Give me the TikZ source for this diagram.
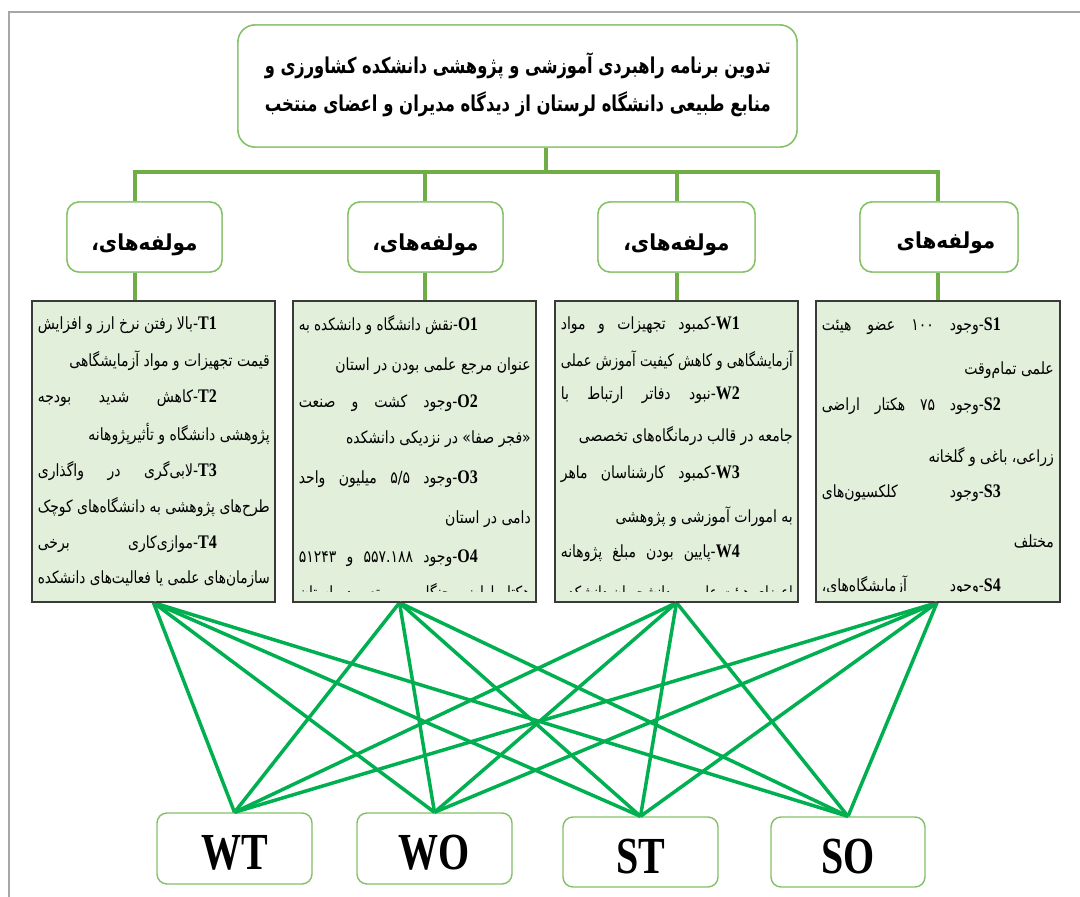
\documentclass[tikz,border=0pt]{standalone}
\usepackage{fontspec}
\usepackage{graphicx}
\TeXXeTstate=1
\newfontfamily\fa[Script=Arabic]{DejaVu Sans}
\newfontfamily\lat{Liberation Serif}
\definecolor{framegray}{HTML}{A6A6A6}
\definecolor{boxgreen}{HTML}{84C066}
\definecolor{treegreen}{HTML}{70AD47}
\definecolor{crossgreen}{HTML}{00B050}
\definecolor{tfill}{HTML}{E2EFDA}
\definecolor{darkline}{HTML}{3A3A3A}
\newsavebox\lnbox
\newcommand\FitJ[2]{\sbox\lnbox{#2}\ifdim\wd\lnbox>#1\relax\resizebox{#1}{\height}{\usebox\lnbox}\else\hbox to #1{#2}\fi}
\newcommand\FitN[2]{\sbox\lnbox{#2}\ifdim\wd\lnbox>#1\relax\resizebox{#1}{\height}{\usebox\lnbox}\else\usebox\lnbox\fi}
\newcommand\lab[1]{{\lat\bfseries\fontsize{16}{16}\selectfont\beginL#1\endL}}
\newcommand\fasz{\fa\fontsize{14}{16}\selectfont}
\newcommand\FLn[3]{\node[pl] (#1) at (\BR-58,#2) {\scalebox{1}[1.2]{\FitJ{179pt}{#3}}};}
\newcommand\LLn[3]{\node[pl] (#1) at (\BR-5,#2) {\scalebox{1}[1.2]{\FitN{232pt}{#3}}};}
\newcommand\PLn[3]{\node[pl, anchor=base east] (#1) at (\BR-5,#2) {\scalebox{1}[1.2]{\FitJ{232pt}{#3}}};}
\tikzset{
  frame/.style={draw=framegray, line width=2pt},
  rbox/.style={draw=boxgreen, line width=1.4pt, fill=white, inner sep=0pt},
  tbox/.style={draw=darkline, line width=1.4pt, fill=tfill, inner sep=0pt, minimum height=301pt, minimum width=243pt},
  tboxline/.style={draw=darkline, line width=1.4pt},
  tree/.style={draw=treegreen, line width=4pt},
  cross/.style={draw=crossgreen, line width=3.5pt},
  pl/.style={inner sep=0pt, anchor=east, font=\fasz},
  comptext/.style={inner sep=0pt, font=\fa\bfseries\fontsize{20}{24}\selectfont},
  bigtext/.style={inner sep=0pt, font=\lat\bfseries\fontsize{40}{40}\selectfont},
}
\begin{document}
\begin{tikzpicture}[x=1pt,y=-1pt]
\useasboundingbox (0,0) rectangle (1080,897);
% outer frame
\draw[frame] (9,897) -- (9,12) -- (1080,12);
% boxes
\node[rbox, rounded corners=17pt, minimum width=559pt, minimum height=122pt] (title) at (517.5,86) {};
\node[rbox, rounded corners=12pt, minimum width=155pt, minimum height=70pt] (c1) at (144.5,237) {};
\node[rbox, rounded corners=12pt, minimum width=155pt, minimum height=70pt] (c2) at (425.5,237) {};
\node[rbox, rounded corners=12pt, minimum width=157pt, minimum height=70pt] (c3) at (676.5,237) {};
\node[rbox, rounded corners=12pt, minimum width=158pt, minimum height=70pt] (c4) at (939,237) {};
% tree connectors
\coordinate (tk) at (546,172);
\coordinate (b1) at (135,172);
\coordinate (b2) at (425,172);
\coordinate (b3) at (677,172);
\coordinate (b4) at (938,172);
\node[tbox] (tT) at (153.5,451.5) {};
\node[tbox] (tO) at (414.5,451.5) {};
\node[tbox] (tW) at (676.5,451.5) {};
\node[tbox] (tS) at (938,451.5) {};
\draw[tree] (tk |- title.south) -- (tk);
\draw[tree, line join=miter] (b1 |- c1.north) -- (b1) -- (b4) -- (b4 |- c4.north);
\draw[tree] (b2) -- (b2 |- c2.north);
\draw[tree] (b3) -- (b3 |- c3.north);
\draw[tree] (b1 |- c1.south) -- (b1 |- tT.north);
\draw[tree] (b2 |- c2.south) -- (b2 |- tO.north);
\draw[tree] (b3 |- c3.south) -- (b3 |- tW.north);
\draw[tree] (b4 |- c4.south) -- (b4 |- tS.north);
% redraw boxes over connector ends
\node[rbox, rounded corners=17pt, minimum width=559pt, minimum height=122pt] (title2) at (title.center) {};
\node[rbox, rounded corners=12pt, minimum width=155pt, minimum height=70pt] (c1b) at (c1.center) {};
\node[rbox, rounded corners=12pt, minimum width=155pt, minimum height=70pt] (c2b) at (c2.center) {};
\node[rbox, rounded corners=12pt, minimum width=157pt, minimum height=70pt] (c3b) at (c3.center) {};
\node[rbox, rounded corners=12pt, minimum width=158pt, minimum height=70pt] (c4b) at (c4.center) {};
% bottom boxes
\node[rbox, rounded corners=10pt, minimum width=155pt, minimum height=71pt] (wt) at (234.5,848.5) {};
\node[rbox, rounded corners=10pt, minimum width=155pt, minimum height=71pt] (wo) at (434.5,848.5) {};
\node[rbox, rounded corners=10pt, minimum width=155pt, minimum height=70pt] (st) at (640.5,852) {};
\node[rbox, rounded corners=10pt, minimum width=154pt, minimum height=70pt] (so) at (848,852) {};
% cross connectors
\coordinate (uT) at (tT.south);
\coordinate (uO) at ([xshift=-15pt]tO.south);
\coordinate (uW) at (tW.south);
\coordinate (uS) at ([xshift=-1pt]tS.south);
\foreach \u in {uT,uO,uW,uS}{
  \foreach \d in {wt,wo,st,so}{
    \draw[cross] (\u) -- (\d.north);
  }
}
% redraw text box frames over line ends
\draw[tboxline] (tT.south west) rectangle (tT.north east);
\draw[tboxline] (tO.south west) rectangle (tO.north east);
\draw[tboxline] (tW.south west) rectangle (tW.north east);
\draw[tboxline] (tS.south west) rectangle (tS.north east);
% title text
\node[inner sep=0pt, anchor=east] (ttl1) at (771,66) {\fa\bfseries\fontsize{19}{22}\selectfont\scalebox{1}[1.15]{\FitJ{506pt}{\beginR تدوین برنامه راهبردی آموزشی و پژوهشی دانشکده کشاورزی و\endR}}};
\node[inner sep=0pt, anchor=east] (ttl2) at (771,104) {\fa\bfseries\fontsize{19}{22}\selectfont\scalebox{1}[1.15]{\FitJ{506pt}{\beginR منابع طبیعی دانشگاه لرستان از دیدگاه مدیران و اعضای منتخب\endR}}};
% component texts
\node[comptext] (c1t) at (144.5,245) {\scalebox{1}[1.1]{\beginR مولفه‌های،\endR}};
\node[comptext] (c2t) at (425.5,245) {\scalebox{1}[1.1]{\beginR مولفه‌های،\endR}};
\node[comptext] (c3t) at (676.5,245) {\scalebox{1}[1.1]{\beginR مولفه‌های،\endR}};
\node[comptext] (c4t) at (946,243) {\scalebox{1}[1.1]{\beginR مولفه‌های\endR}};
% T box
\begin{scope}
\clip ([yshift=11pt]tT.south west) rectangle (tT.north east);
\def\BR{275}
\FLn{t1}{325}{\beginR\lab{T1}-بالا رفتن نرخ ارز و افزایش\endR}
\LLn{t2}{361}{\beginR قیمت تجهیزات و مواد آزمایشگاهی\endR}
\FLn{t3}{398}{\beginR\lab{T2}-کاهش شدید بودجه\endR}
\LLn{t4}{434}{\beginR پژوهشی دانشگاه و تأثیرپژوهانه\endR}
\FLn{t5}{471}{\beginR\lab{T3}-لابی‌گری در واگذاری\endR}
\LLn{t6}{507}{\beginR طرح‌های پژوهشی به دانشگاه‌های کوچک\endR}
\FLn{t7}{544}{\beginR\lab{T4}-موازی‌کاری برخی\endR}
\LLn{t8}{579}{\beginR سازمان‌های علمی یا فعالیت‌های دانشکده\endR}
\end{scope}
% O box
\begin{scope}
\clip ([yshift=11pt]tO.south west) rectangle (tO.north east);
\def\BR{536}
\FLn{o1}{325}{\beginR\lab{O1}-نقش دانشگاه و دانشکده به\endR}
\LLn{o2}{366}{\beginR عنوان مرجع علمی بودن در استان\endR}
\FLn{o3}{403}{\beginR\lab{O2}-وجود کشت و صنعت\endR}
\LLn{o4}{439}{\beginR «فجر صفا» در نزدیکی دانشکده\endR}
\FLn{o5}{479}{\beginR\lab{O3}-وجود ۵/۵ میلیون واحد\endR}
\LLn{o6}{519}{\beginR دامی در استان\endR}
\FLn{o7}{558}{\beginR\lab{O4}-وجود ۵۵۷.۱۸۸ و ۵۱۲۴۳\endR}
\PLn{o8}{598}{\beginR هکتار اراضی جنگلی و مرتعی در استان\endR}
\end{scope}
% W box
\begin{scope}
\clip ([yshift=11pt]tW.south west) rectangle (tW.north east);
\def\BR{798}
\FLn{w1}{325}{\beginR\lab{W1}-کمبود تجهیزات و مواد\endR}
\LLn{w2}{361}{\beginR آزمایشگاهی و کاهش کیفیت آموزش عملی\endR}
\FLn{w3}{395}{\beginR\lab{W2}-نبود دفاتر ارتباط با\endR}
\LLn{w4}{436}{\beginR جامعه در قالب درمانگاه‌های تخصصی\endR}
\FLn{w5}{474}{\beginR\lab{W3}-کمبود کارشناسان ماهر\endR}
\LLn{w6}{517}{\beginR به امورات آموزشی و پژوهشی\endR}
\FLn{w7}{553}{\beginR\lab{W4}-پایین بودن مبلغ پژوهانه\endR}
\PLn{w8}{598}{\beginR اعضای هیئت علمی و دانشجویان دانشکده\endR}
\end{scope}
% S box
\begin{scope}
\clip ([yshift=11pt]tS.south west) rectangle (tS.north east);
\def\BR{1059}
\FLn{s1}{326}{\beginR\lab{S1}-وجود ۱۰۰ عضو هیئت\endR}
\LLn{s2}{370}{\beginR علمی تمام‌وقت\endR}
\FLn{s3}{406}{\beginR\lab{S2}-وجود ۷۵ هکتار اراضی\endR}
\LLn{s4}{457}{\beginR زراعی، باغی و گلخانه\endR}
\FLn{s5}{493}{\beginR\lab{S3}-وجود کلکسیون‌های\endR}
\LLn{s6}{541}{\beginR مختلف\endR}
\FLn{s7}{586}{\beginR\lab{S4}-وجود آزمایشگاه‌های،\endR}
\end{scope}
% bottom labels
\node[bigtext] (wtt) at (234.5,853) {\scalebox{1}[1.3]{WT}};
\node[bigtext] (wot) at (434.5,853) {\scalebox{1}[1.3]{WO}};
\node[bigtext] (stt) at (640.5,857) {\scalebox{1}[1.3]{ST}};
\node[bigtext] (sot) at (848,857) {\scalebox{1}[1.3]{SO}};
\end{tikzpicture}
\end{document}
